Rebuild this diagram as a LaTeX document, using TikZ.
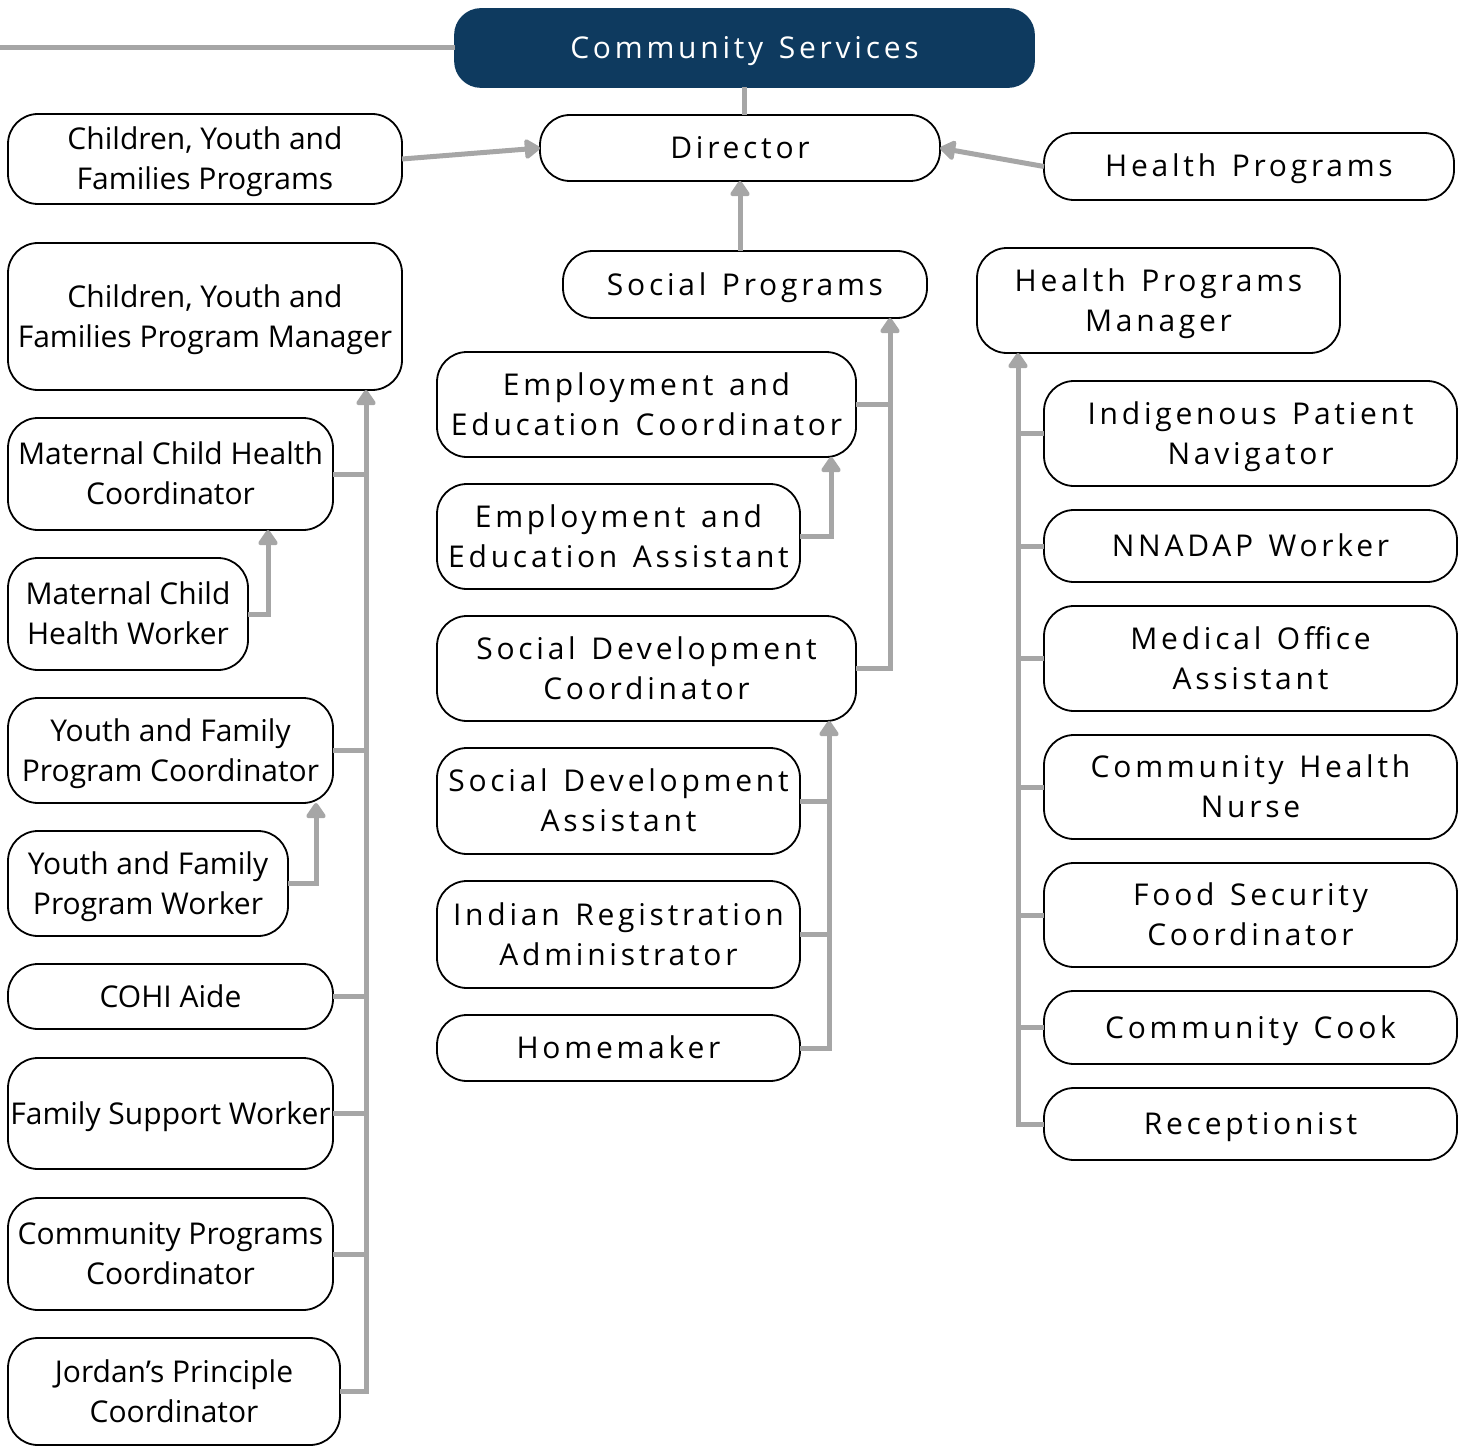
\documentclass[tikz,border=0pt]{standalone}
\usepackage{fontspec}
\setmainfont{Open Sans}
\newfontfamily\lsfont[LetterSpace=12.5,WordSpace=1.35]{Open Sans}
\usetikzlibrary{arrows.meta}
\definecolor{navy}{HTML}{0E3A5F}
\definecolor{linegray}{HTML}{A6A6A6}
\newcommand\fs{\fontsize{30}{40}\selectfont}
\newcommand\st{\rule[-8pt]{0pt}{37pt}}
\tikzset{
  bx/.style={draw=black, line width=1.8pt, rounded corners=30pt, inner sep=0pt, outer sep=0pt, align=center, font=\fs},
  sbx/.style={bx, font=\fs\lsfont},
  conn/.style={draw=linegray, line width=5pt},
  arr/.style={conn, -{Triangle[width=22pt,length=17pt,round]}},
}
\newcommand\bx[7]{\node[#6, minimum width={(#4-#2)*1pt}, minimum height={(#5-#3)*1pt}] (#1) at ({(#2+#4)/2},{(#3+#5)/2}) {\st#7\st};}
\begin{document}
\begin{tikzpicture}[x=1pt,y=-1pt]
\useasboundingbox (0,0) rectangle (1466,1447);
% top
\bx{cs}{455}{9}{1034}{87}{sbx,fill=navy,draw=navy,text=white,rounded corners=26pt}{Community Services}
\bx{dir}{540}{115}{940}{181}{sbx}{Director}
\bx{cyfp}{8}{114}{402}{204}{bx}{Children, Youth and\\Families Programs}
\bx{hp}{1044}{133}{1454}{200}{sbx}{Health Programs}
\bx{sp}{563}{251}{927}{318}{sbx}{Social Programs}
\bx{hpm}{977}{248}{1340}{353}{sbx}{Health Programs\\Manager}
% left column
\bx{cyfm}{8}{243}{402}{390}{bx}{Children, Youth and\\Families Program Manager}
\bx{mchc}{8}{418}{333}{530}{bx}{Maternal Child Health\\Coordinator}
\bx{mchw}{8}{558}{248}{670}{bx}{Maternal Child\\Health Worker}
\bx{yfpc}{8}{698}{333}{803}{bx}{Youth and Family\\Program Coordinator}
\bx{yfpw}{8}{831}{288}{936}{bx}{Youth and Family\\Program Worker}
\bx{cohi}{8}{964}{333}{1029}{bx}{COHI Aide}
\bx{fsw}{8}{1058}{333}{1169}{bx}{Family Support Worker}
\bx{cpc}{8}{1198}{333}{1310}{bx}{Community Programs\\Coordinator}
\bx{jpc}{8}{1338}{340}{1445}{bx}{Jordan’s Principle\\Coordinator}
% middle column
\bx{eec}{437}{352}{856}{457}{sbx}{Employment and\\Education Coordinator}
\bx{eea}{437}{484}{800}{589}{sbx}{Employment and\\Education Assistant}
\bx{sdc}{437}{616}{856}{721}{sbx}{Social Development\\Coordinator}
\bx{sda}{437}{748}{800}{854}{sbx}{Social Development\\Assistant}
\bx{ira}{437}{881}{800}{988}{sbx}{Indian Registration\\Administrator}
\bx{hm}{437}{1015}{800}{1081}{sbx}{Homemaker}
% right column
\bx{ipn}{1044}{381}{1457}{486}{sbx}{Indigenous Patient\\Navigator}
\bx{nn}{1044}{510}{1457}{582}{sbx}{NNADAP Worker}
\bx{moa}{1044}{606}{1457}{711}{sbx}{Medical Office\\Assistant}
\bx{chn}{1044}{735}{1457}{839}{sbx}{Community Health\\Nurse}
\bx{fsc}{1044}{863}{1457}{967}{sbx}{Food Security\\Coordinator}
\bx{cc}{1044}{991}{1457}{1064}{sbx}{Community Cook}
\bx{rec}{1044}{1088}{1457}{1160}{sbx}{Receptionist}
% trunk coordinates
\coordinate (lend) at (0,48);
\coordinate (lt) at (366,0);
\coordinate (mchwx) at (268,0);
\coordinate (yfpwx) at (316,0);
\coordinate (mt) at (890,0);
\coordinate (eeax) at (831,0);
\coordinate (lmt) at (829,0);
\coordinate (rt) at (1018,0);
% top connectors
\draw[conn] (lend) -- (cs.west);
\draw[conn] (cs.south) -- (cs.south |- dir.north);
\draw[arr] (cyfp.east) -- (dir.west);
\draw[arr] (hp.west) -- (dir.east);
\draw[arr] (sp.north -| dir.south) -- (dir.south);
% left
\draw[arr] (jpc.east) -| (lt |- cyfm.south);
\foreach \n in {mchc,yfpc,cohi,fsw,cpc} \draw[conn] (\n.east) -- (\n.east -| lt);
\draw[arr] (mchw.east) -| (mchwx |- mchc.south);
\draw[arr] (yfpw.east) -| (yfpwx |- yfpc.south);
% middle
\draw[arr] (sdc.east) -| (mt |- sp.south);
\draw[conn] (eec.east) -- (eec.east -| mt);
\draw[arr] (eea.east) -| (eeax |- eec.south);
\draw[arr] (hm.east) -| (lmt |- sdc.south);
\foreach \n in {sda,ira} \draw[conn] (\n.east) -- (\n.east -| lmt);
% right
\draw[arr] (rec.west) -| (rt |- hpm.south);
\foreach \n in {ipn,nn,moa,chn,fsc,cc} \draw[conn] (\n.west) -- (\n.west -| rt);
\end{tikzpicture}
\end{document}
